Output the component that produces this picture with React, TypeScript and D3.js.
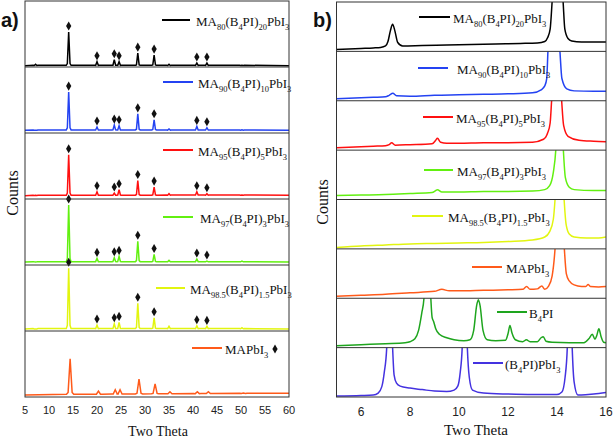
import React from 'react';
import * as d3 from 'd3';

// ---------- Panel a data ----------
const aTicks = [5, 10, 15, 20, 25, 30, 35, 40, 45, 50, 55, 60];
const aPosMA = [7.2, 14.1, 20.0, 23.6, 24.6, 28.5, 31.9, 35.0, 40.8, 42.9, 50.2];
const aPosRef = [14.4, 20.3, 23.8, 24.8, 28.75, 32.1, 35.2, 40.9, 43.2, 50.5];
const aMarked = [14.1, 20.0, 23.6, 24.6, 28.5, 31.9, 40.8, 42.9];
const aH80 = [4, 53, 8, 11, 8, 21, 18, 4, 6, 6, 2.5];
const aH90 = [4, 62, 9, 12, 11, 29, 20, 6, 10, 8, 5];
const aH95 = [5.5, 67, 11, 9, 14, 28, 18, 8, 11, 8, 6];
const aH97 = [4.5, 91, 10, 11, 13, 36, 16, 7, 9, 6, 6];
const aH985 = [3, 95, 9, 11, 13, 42, 20, 7, 8, 7, 5];
const aHRef = [58, 9, 11, 11, 27, 20, 8, 8, 8, 6];
const aBase80 = [2, 2];
const aBase90 = [4, 4];
const aBase95 = [5, 5.5];
const aBase97 = [4.5, 4.5];
const aBase985 = [3, 3];
const aBaseRef = [3, 5.5];

// ---------- Panel b data ----------
const bTicks = [6, 8, 10, 12, 14, 16];
const b80: [number, number][] = [[5,4],[5.5,5],[6,6],[6.5,7],[6.8,8],[7.0,11],[7.1,20],[7.2,42],[7.29,55],[7.38,42],[7.5,18],[7.7,11],[8.5,12],[9.5,13],[10.5,14],[11.5,15],[12.5,16],[13.2,17],[13.5,20],[13.62,28],[13.72,45],[13.8,100],[14.02,300],[14.25,100],[14.32,45],[14.45,26],[14.6,21],[15,19],[15.5,19],[16,19]];
const b90: [number, number][] = [[5,4],[5.5,5],[6,6],[6.5,7],[7,8],[7.15,11],[7.3,15],[7.45,10],[8,9],[9,11],[10,12],[11,13],[12,14],[13,16],[13.35,22],[13.5,30],[13.58,45],[13.63,100],[13.88,300],[14.12,100],[14.2,45],[14.4,24],[14.7,20],[15.5,19],[16,19]];
const b95: [number, number][] = [[5,5],[6,7],[6.5,8],[7,9],[7.15,11],[7.25,15],[7.4,10],[8,11],[8.9,13],[9.05,20],[9.12,24],[9.25,16],[9.5,14],[10,14],[11,15],[12,15],[13,16],[13.45,22],[13.62,35],[13.72,55],[13.78,100],[13.99,300],[14.19,100],[14.27,50],[14.45,28],[14.9,20],[15.5,18],[16,17]];
const b97: [number, number][] = [[5,8],[6,9],[7,10],[8,12],[8.9,14],[9.05,18],[9.12,20],[9.3,15],[10,15],[11,16],[12,16],[13,17],[13.5,20],[13.7,28],[13.85,55],[13.95,100],[14.1,300],[14.26,100],[14.34,45],[14.5,25],[14.7,20],[15.5,18],[16,18]];
const b985: [number, number][] = [[5,3],[6,6],[7,8],[8,10],[9,11],[10,12],[11,13],[12,15],[13,18],[13.5,24],[13.7,35],[13.85,60],[13.92,100],[14.1,300],[14.29,100],[14.37,50],[14.5,30],[14.7,24],[15.2,22],[15.7,22],[16,24]];
const bRef: [number, number][] = [[5,4],[6,6],[7,8],[8,11],[9,14],[9.3,18],[9.6,15],[10,15],[11,16],[12,17],[12.6,18],[12.76,24],[12.9,18],[13.2,19],[13.38,25],[13.5,18],[13.65,24],[13.8,45],[13.92,100],[14.11,300],[14.3,100],[14.38,50],[14.5,35],[14.7,27],[15,24],[15.18,24],[15.27,28],[15.36,24],[15.7,23],[16,24]];
const bB4PI: [number, number][] = [[5,4],[6,6],[7,8],[7.8,10],[8.0,12],[8.2,18],[8.35,35],[8.48,70],[8.57,100],[8.7,300],[8.85,100],[8.9,62],[8.97,52],[9.05,38],[9.2,27],[9.5,20],[9.8,16],[10.2,14],[10.45,16],[10.6,35],[10.72,85],[10.79,97],[10.86,85],[10.98,35],[11.15,16],[11.5,14],[11.9,15],[12.0,28],[12.08,45],[12.16,30],[12.3,16],[12.6,12],[12.75,16],[12.9,12],[13.2,12],[13.35,20],[13.44,22],[13.55,13],[13.8,11],[14.5,10],[15.1,10],[15.3,18],[15.44,27],[15.55,17],[15.62,24],[15.71,38],[15.8,22],[15.9,11],[16,10]];
const bPbI3: [number, number][] = [[5,2],[6,3],[6.5,4],[6.7,8],[6.85,21],[6.95,50],[7.05,100],[7.17,300],[7.29,100],[7.35,45],[7.45,28],[7.6,22],[8,18],[8.5,15],[9,12],[9.5,11],[9.8,14],[9.95,22],[10.05,50],[10.13,100],[10.23,300],[10.34,100],[10.42,40],[10.55,14],[11,8],[12,6],[13,5],[14,5],[14.2,10],[14.33,40],[14.42,100],[14.52,300],[14.62,100],[14.7,30],[14.85,4],[15,4],[15.5,6],[16,9]];

type Part = [string, boolean];
const nameMA80: Part[] = [['MA', false], ['80', true], ['(B', false], ['4', true], ['PI)', false], ['20', true], ['PbI', false], ['3', true]];
const nameMA90: Part[] = [['MA', false], ['90', true], ['(B', false], ['4', true], ['PI)', false], ['10', true], ['PbI', false], ['3', true]];
const nameMA95: Part[] = [['MA', false], ['95', true], ['(B', false], ['4', true], ['PI)', false], ['5', true], ['PbI', false], ['3', true]];
const nameMA97: Part[] = [['MA', false], ['97', true], ['(B', false], ['4', true], ['PI)', false], ['3', true], ['PbI', false], ['3', true]];
const nameMA985: Part[] = [['MA', false], ['98.5', true], ['(B', false], ['4', true], ['PI)', false], ['1.5', true], ['PbI', false], ['3', true]];
const nameRef: Part[] = [['MAPbI', false], ['3', true]];
const nameB4PI: Part[] = [['B', false], ['4', true], ['PI', false]];
const namePbI3: Part[] = [['(B', false], ['4', true], ['PI)PbI', false], ['3', true]];

const cBlack = '#000000';
const cBlue = '#2443f2';
const cRed = '#ff1010';
const cLime = '#62f010';
const cYellow = '#e2f510';
const cOrange = '#ff5a1a';
const cGreen = '#1ea51e';
const cPurple = '#4432e0';

const aSeries = [
  { name: nameMA80, color: cBlack, pos: aPosMA, h: aH80, base: aBase80, hw: 0.28, marks: true, leg: [162, 190, 20, 196] },
  { name: nameMA90, color: cBlue, pos: aPosMA, h: aH90, base: aBase90, hw: 0.28, marks: true, leg: [163, 193, 82, 198] },
  { name: nameMA95, color: cRed, pos: aPosMA, h: aH95, base: aBase95, hw: 0.28, marks: true, leg: [163, 193, 150, 198] },
  { name: nameMA97, color: cLime, pos: aPosMA, h: aH97, base: aBase97, hw: 0.28, marks: true, leg: [163, 193, 217, 200] },
  { name: nameMA985, color: cYellow, pos: aPosMA, h: aH985, base: aBase985, hw: 0.28, marks: true, leg: [156, 185, 288, 190] },
  { name: nameRef, color: cOrange, pos: aPosRef, h: aHRef, base: aBaseRef, hw: 0.42, marks: false, leg: [192, 222, 348, 225] },
];

const bSeries = [
  { name: nameMA80, color: cBlack, pts: b80, leg: [419, 450, 17, 453] },
  { name: nameMA90, color: cBlue, pts: b90, leg: [418, 448, 68, 457] },
  { name: nameMA95, color: cRed, pts: b95, leg: [423, 453, 117, 456] },
  { name: nameMA97, color: cLime, pts: b97, leg: [424, 453, 170, 457] },
  { name: nameMA985, color: cYellow, pts: b985, leg: [412, 443, 216, 448] },
  { name: nameRef, color: cOrange, pts: bRef, leg: [472, 502, 267, 506] },
  { name: nameB4PI, color: cGreen, pts: bB4PI, leg: [497, 527, 312, 529] },
  { name: namePbI3, color: cPurple, pts: bPbI3, leg: [473, 503, 363, 505] },
];

function Label({ parts, x, y, size }: { parts: Part[]; x: number; y: number; size: number }) {
  let cur = 0;
  return (
    <text x={x} y={y} fontFamily="'Liberation Serif', 'Times New Roman', serif" fontSize={size} fill="#111">
      {parts.map(([t, sub], i) => {
        const target = sub ? 4 : 0;
        const dy = target - cur;
        cur = target;
        return (
          <tspan key={i} dy={dy} fontSize={sub ? size * 0.65 : size}>{t}</tspan>
        );
      })}
    </text>
  );
}

export default function App() {
  const W = 614, H = 440;
  // panel a geometry
  const aL = 25, aR = 289, aT = 1, aB = 397;
  const ax = d3.scaleLinear().domain([5, 60]).range([aL, aR]);
  const aRowH = (aB - aT) / aSeries.length;
  // panel b geometry
  const bL = 336.5, bR = 606, bT = 2, bB = 397;
  const bx = d3.scaleLinear().domain([5, 16]).range([bL, bR]);
  const bRowH = (bB - bT) / bSeries.length;

  const diamond = d3.symbol().type(d3.symbolDiamond).size(24)();

  const aPaths = aSeries.map((s, i) => {
    const top = aT + i * aRowH;
    const y = d3.scaleLinear().domain([0, 100]).range([top + aRowH, top]);
    const bfun = (x: number) => s.base[0] + (s.base[1] - s.base[0]) * (x - 5) / 55;
    const pts: [number, number][] = [[5, bfun(5)]];
    s.pos.forEach((p, k) => {
      pts.push([p - s.hw * 1.8, bfun(p) + 0.6]);
      pts.push([p - s.hw, bfun(p) + s.h[k] * 0.06]);
      pts.push([p, s.h[k]]);
      pts.push([p + s.hw, bfun(p) + s.h[k] * 0.06]);
      pts.push([p + s.hw * 1.8, bfun(p) + 0.6]);
    });
    pts.push([60, bfun(60)]);
    const line = d3.line<[number, number]>().x(d => ax(d[0])).y(d => y(d[1]));
    const marks = s.marks
      ? aMarked.map(m => {
          const k = s.pos.indexOf(m);
          return [ax(m), y(s.h[k]) - 6] as [number, number];
        })
      : [];
    return { top, d: line(pts) || '', marks, color: s.color };
  });

  const bPaths = bSeries.map((s, i) => {
    const top = bT + i * bRowH;
    const y = d3.scaleLinear().domain([0, 100]).range([top + bRowH, top]);
    const line = d3.line<[number, number]>().x(d => bx(d[0])).y(d => y(d[1])).curve(d3.curveMonotoneX);
    return { top, d: line(s.pts) || '', color: s.color };
  });

  const sans = "'Liberation Sans', Arial, sans-serif";
  const serif = "'Liberation Serif', 'Times New Roman', serif";

  return (
    <svg width={W} height={H} style={{ position: 'absolute', left: 0, top: 0, background: '#fff' }}>
      <defs>
        {aPaths.map((p, i) => (
          <clipPath id={`ca${i}`} key={i}>
            <rect x={aL} y={p.top} width={aR - aL} height={aRowH} />
          </clipPath>
        ))}
        {bPaths.map((p, i) => (
          <clipPath id={`cb${i}`} key={i}>
            <rect x={bL} y={p.top} width={bR - bL} height={bRowH} />
          </clipPath>
        ))}
      </defs>

      {/* Panel a */}
      {aPaths.map((p, i) => (
        <g key={i}>
          <path d={p.d} fill="none" stroke={p.color} strokeWidth={1.5} clipPath={`url(#ca${i})`} />
          {p.marks.map((m, k) => (
            <path key={k} d={diamond} transform={`translate(${m[0]},${m[1]})`} fill="#111" />
          ))}
        </g>
      ))}
      {aPaths.slice(1).map((p, i) => (
        <line key={i} x1={aL} x2={aR} y1={p.top} y2={p.top} stroke="#333" strokeWidth={1} />
      ))}
      <rect x={aL} y={aT} width={aR - aL} height={aB - aT} fill="none" stroke="#333" strokeWidth={1} />
      {aSeries.map((s, i) => (
        <g key={i}>
          <line x1={s.leg[0]} x2={s.leg[1]} y1={s.leg[2]} y2={s.leg[2]} stroke={s.color} strokeWidth={2} />
          <Label parts={s.name} x={s.leg[3]} y={s.leg[2] + 6} size={13} />
        </g>
      ))}
      <path d={diamond} transform={`translate(275,349)`} fill="#111" />
      {aTicks.map(t => (
        <text key={t} x={ax(t)} y={414} textAnchor="middle" fontFamily={sans} fontSize={11} fill="#222">{t}</text>
      ))}
      <text x={158} y={436} textAnchor="middle" fontFamily={serif} fontSize={14} fill="#111">Two Theta</text>
      <text transform="translate(18,193) rotate(-90)" textAnchor="middle" fontFamily={serif} fontSize={16} fill="#111">Counts</text>
      <text x={1} y={27} fontFamily={sans} fontWeight="bold" fontSize={20} fill="#111">a)</text>

      {/* Panel b */}
      {bPaths.map((p, i) => (
        <path key={i} d={p.d} fill="none" stroke={p.color} strokeWidth={1.5} clipPath={`url(#cb${i})`} />
      ))}
      {bPaths.slice(1).map((p, i) => (
        <line key={i} x1={bL} x2={bR} y1={p.top} y2={p.top} stroke="#333" strokeWidth={1} />
      ))}
      <rect x={bL} y={bT} width={bR - bL} height={bB - bT} fill="none" stroke="#333" strokeWidth={1} />
      {bSeries.map((s, i) => (
        <g key={i}>
          <line x1={s.leg[0]} x2={s.leg[1]} y1={s.leg[2]} y2={s.leg[2]} stroke={s.color} strokeWidth={2} />
          <Label parts={s.name} x={s.leg[3]} y={s.leg[2] + 6} size={13} />
        </g>
      ))}
      {bTicks.map(t => (
        <text key={t} x={bx(t)} y={416} textAnchor="middle" fontFamily={sans} fontSize={12} fill="#222">{t}</text>
      ))}
      <text x={476} y={435} textAnchor="middle" fontFamily={serif} fontSize={15} fill="#111">Two Theta</text>
      <text transform="translate(328,202) rotate(-90)" textAnchor="middle" fontFamily={serif} fontSize={16} fill="#111">Counts</text>
      <text x={313} y={27} fontFamily={sans} fontWeight="bold" fontSize={20} fill="#111">b)</text>
    </svg>
  );
}
